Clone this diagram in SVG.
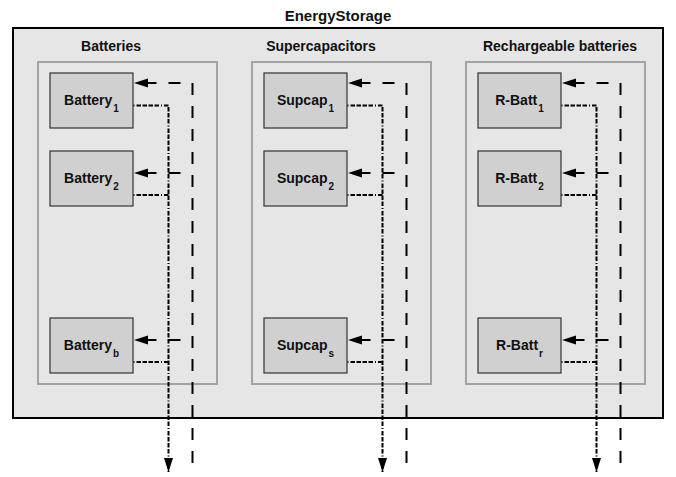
<svg xmlns="http://www.w3.org/2000/svg" width="676" height="477" viewBox="0 0 676 477">
<defs>
<style>
text{font-family:"Liberation Sans",Arial,sans-serif;font-weight:bold;fill:#111}
.title{font-size:15px}
.glabel{font-size:14px}
.nlabel{font-size:14px}
.sub{font-size:10px}
.outer{fill:#e6e6e6;stroke:#000;stroke-width:2}
.group{fill:#e6e6e6;stroke:#a3a3a3;stroke-width:2}
.node{fill:#d0d0d0;stroke:#333;stroke-width:1.2}
.dash{fill:none;stroke:#000;stroke-width:2;stroke-dasharray:12 11}
.dashh{fill:none;stroke:#000;stroke-width:2;stroke-dasharray:12 12;stroke-dashoffset:12}
.dd{fill:none;stroke:#000;stroke-width:2;stroke-dasharray:1 2 4.5 1.5 4.5 1.5 4.5 1.5 4.5 2}
</style>
<marker id="ah" markerUnits="userSpaceOnUse" markerWidth="15" markerHeight="10" refX="14" refY="4.5" orient="auto">
<path d="M0,0 L14,4.5 L0,9 z" fill="#000"/>
</marker>
</defs>

<g id="EnergyStorage">
<rect class="outer" x="13" y="28" width="650" height="390"/>
<text class="title" x="338" y="20.5" text-anchor="middle">EnergyStorage</text>
</g>

<g id="Batteries">
<rect class="group" x="38" y="62" width="179" height="322"/>
<text class="glabel" x="111" y="51" text-anchor="middle">Batteries</text>
</g>
<g id="Supercapacitors">
<rect class="group" x="252" y="62" width="179" height="322"/>
<text class="glabel" x="321" y="51" text-anchor="middle">Supercapacitors</text>
</g>
<g id="RechargeableBatteries">
<rect class="group" x="466" y="62" width="179" height="322"/>
<text class="glabel" x="560" y="51" text-anchor="middle">Rechargeable batteries</text>
</g>

<g id="Battery1"><rect class="node" x="50" y="73" width="83" height="55"/><text class="nlabel" x="91.5" y="104.5" text-anchor="middle">Battery<tspan class="sub" dx="1" dy="7">1</tspan></text></g>
<g id="Battery2"><rect class="node" x="50" y="151" width="83" height="55"/><text class="nlabel" x="91.5" y="182.5" text-anchor="middle">Battery<tspan class="sub" dx="1" dy="7">2</tspan></text></g>
<g id="Batteryb"><rect class="node" x="50" y="318" width="83" height="55"/><text class="nlabel" x="91.5" y="349.5" text-anchor="middle">Battery<tspan class="sub" dx="1" dy="7">b</tspan></text></g>

<g id="Supcap1"><rect class="node" x="264" y="73" width="83" height="55"/><text class="nlabel" x="305.5" y="104.5" text-anchor="middle">Supcap<tspan class="sub" dx="1" dy="7">1</tspan></text></g>
<g id="Supcap2"><rect class="node" x="264" y="151" width="83" height="55"/><text class="nlabel" x="305.5" y="182.5" text-anchor="middle">Supcap<tspan class="sub" dx="1" dy="7">2</tspan></text></g>
<g id="Supcaps"><rect class="node" x="264" y="318" width="83" height="55"/><text class="nlabel" x="305.5" y="349.5" text-anchor="middle">Supcap<tspan class="sub" dx="1" dy="7">s</tspan></text></g>

<g id="RBatt1"><rect class="node" x="478" y="73" width="83" height="55"/><text class="nlabel" x="519.5" y="104.5" text-anchor="middle">R-Batt<tspan class="sub" dx="1" dy="7">1</tspan></text></g>
<g id="RBatt2"><rect class="node" x="478" y="151" width="83" height="55"/><text class="nlabel" x="519.5" y="182.5" text-anchor="middle">R-Batt<tspan class="sub" dx="1" dy="7">2</tspan></text></g>
<g id="RBattr"><rect class="node" x="478" y="318" width="83" height="55"/><text class="nlabel" x="519.5" y="349.5" text-anchor="middle">R-Batt<tspan class="sub" dx="1" dy="7">r</tspan></text></g>

<g id="connectors">
<!-- column 1 -->
<path class="dash" d="M192.5,83 V468"/>
<path class="dashh" d="M192.5,83 H134" marker-end="url(#ah)"/>
<path class="dashh" d="M192.5,173 H134" marker-end="url(#ah)"/>
<path class="dashh" d="M192.5,340 H134" marker-end="url(#ah)"/>
<path class="dd" d="M133.5,105.5 H168.5 V472" marker-end="url(#ah)"/>
<path class="dd" d="M133.5,195 H168.5"/>
<path class="dd" d="M133.5,362 H168.5"/>
<!-- column 2 -->
<path class="dash" d="M406.5,83 V468"/>
<path class="dashh" d="M406.5,83 H348" marker-end="url(#ah)"/>
<path class="dashh" d="M406.5,173 H348" marker-end="url(#ah)"/>
<path class="dashh" d="M406.5,340 H348" marker-end="url(#ah)"/>
<path class="dd" d="M347.5,105.5 H382.5 V472" marker-end="url(#ah)"/>
<path class="dd" d="M347.5,195 H382.5"/>
<path class="dd" d="M347.5,362 H382.5"/>
<!-- column 3 -->
<path class="dash" d="M620.5,83 V468"/>
<path class="dashh" d="M620.5,83 H562" marker-end="url(#ah)"/>
<path class="dashh" d="M620.5,173 H562" marker-end="url(#ah)"/>
<path class="dashh" d="M620.5,340 H562" marker-end="url(#ah)"/>
<path class="dd" d="M561.5,105.5 H596.5 V472" marker-end="url(#ah)"/>
<path class="dd" d="M561.5,195 H596.5"/>
<path class="dd" d="M561.5,362 H596.5"/>
</g>
</svg>
